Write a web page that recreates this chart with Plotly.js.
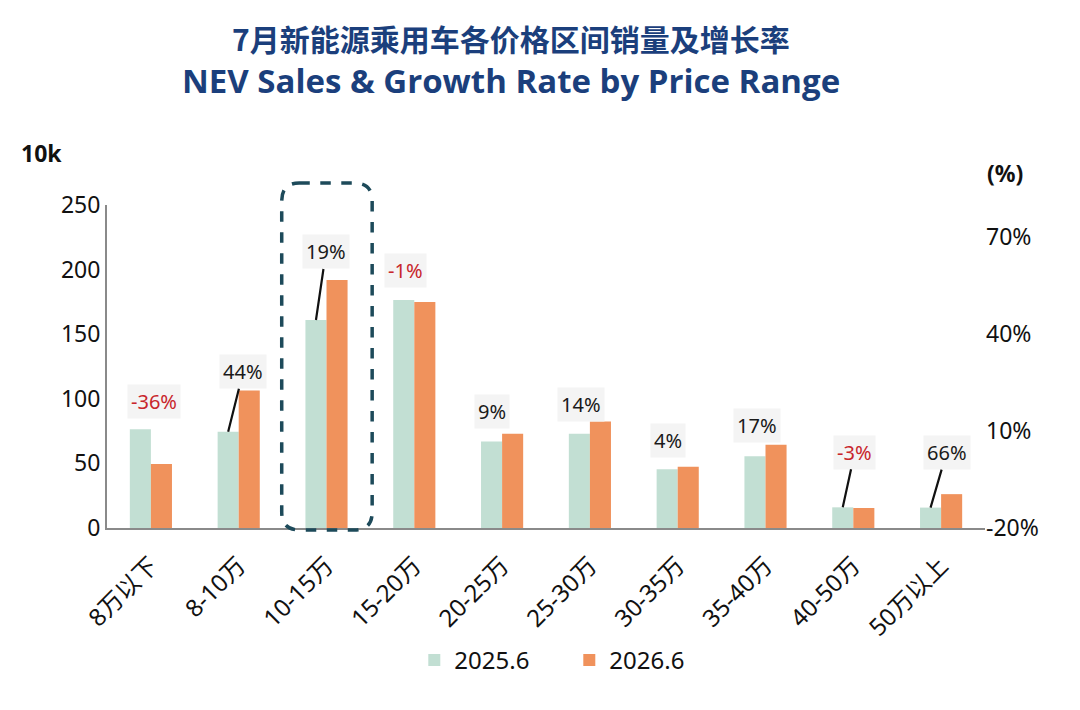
<!DOCTYPE html>
<html>
<head>
<meta charset="utf-8">
<script src="https://cdn.plot.ly/plotly-3.0.1.min.js"></script>
<style>
  html, body { margin: 0; padding: 0; background: #fff; }
  #chart { width: 1080px; height: 710px; }
</style>
</head>
<body>
<div id="chart"></div>
<script>
// price ranges (x categories)
const categories = ['8万以下', '8-10万', '10-15万', '15-20万', '20-25万', '25-30万', '30-35万', '35-40万', '40-50万', '50万以上'];
// sales in 10k units
const sales2025 = [76.5, 74.5, 161, 176.5, 67, 73, 45.5, 55.5, 16, 15.8];
const sales2026 = [49.5, 106.5, 192, 175, 73, 82.5, 47.5, 64.5, 15.5, 26.2];
// year-on-year growth labels
const growth = ['-36%', '44%', '19%', '-1%', '9%', '14%', '4%', '17%', '-3%', '66%'];
const seriesNames = ['2025.6', '2026.6'];
const rightTicks = [-20, 10, 40, 70];
const titleLines = ['7月新能源乘用车各价格区间销量及增长率', 'NEV Sales & Growth Rate by Price Range'];

// label placement (pixels), leader lines for the crowded ones
const hasLeader = [false, true, true, false, false, false, false, false, true, true];
const labelDx = [3, 5, 0, -9, -10, -9, -10, -9, 2, 6];
const labelDy = [-28, -60, -68, -29, -22, -17, -26, -19, -55, -55];

const font = '"Noto Sans", "Noto Sans CJK SC", sans-serif';
const teal = '#c2dfd3', orange = '#f0925c';
const red = '#c8262c', ink = '#1a1a1a', navy = '#1b3f7c';

const traces = [
    { type: 'bar', x: categories, y: sales2025, name: seriesNames[0], marker: { color: teal }, hoverinfo: 'x+y' },
    { type: 'bar', x: categories, y: sales2026, name: seriesNames[1], marker: { color: orange }, hoverinfo: 'x+y' }
];

const annotations = growth.map((g, i) => {
    const neg = g.startsWith('-');
    const base = {
        text: g, xref: 'x', yref: 'y',
        font: { family: font, size: 20, color: neg ? red : ink },
        bgcolor: '#f4f4f4', borderpad: 3
    };
    if (hasLeader[i]) {
        // arrow tip on the 2025 bar top
        return { ...base, x: i - 0.12, y: sales2025[i], showarrow: true, arrowhead: 0,
                 arrowwidth: 2.2, arrowcolor: '#111', ax: labelDx[i] + 10, ay: labelDy[i] };
    }
    return { ...base, x: i, y: Math.max(sales2025[i], sales2026[i]), showarrow: false,
             xshift: labelDx[i], yshift: -labelDy[i], yanchor: 'middle' };
});

annotations.push(
    { text: '<b>' + titleLines[0] + '</b>', xref: 'paper', yref: 'paper', x: 0.46, y: 1.516,
      xanchor: 'center', yanchor: 'middle', showarrow: false,
      font: { family: '"Noto Sans CJK SC", sans-serif', size: 30, color: navy } },
    { text: '<b>' + titleLines[1] + '</b>', xref: 'paper', yref: 'paper', x: 0.46, y: 1.385,
      xanchor: 'center', yanchor: 'middle', showarrow: false,
      font: { family: '"Open Sans", sans-serif', size: 33, color: navy } },
    { text: '<b>10k</b>', xref: 'paper', yref: 'paper', x: -0.1, y: 1.161, xanchor: 'left', yanchor: 'middle',
      showarrow: false, font: { family: font, size: 23, color: '#111' } },
    { text: '<b>(%)</b>', xref: 'paper', yref: 'paper', x: 1.023, y: 1.099, xanchor: 'center', yanchor: 'middle',
      showarrow: false, font: { family: font, size: 23, color: '#111' } }
);

// dashed rounded box around 10-15万 (x in data units, y in paper units)
const bx0 = 1.49, bx1 = 2.52, by0 = -0.006, by1 = 1.068, rx = 0.2, ry = 0.055;
const boxPath = `M ${bx0 + rx} ${by1} L ${bx1 - rx} ${by1} Q ${bx1} ${by1} ${bx1} ${by1 - ry} ` +
    `L ${bx1} ${by0 + ry} Q ${bx1} ${by0} ${bx1 - rx} ${by0} L ${bx0 + rx} ${by0} ` +
    `Q ${bx0} ${by0} ${bx0} ${by0 + ry} L ${bx0} ${by1 - ry} Q ${bx0} ${by1} ${bx0 + rx} ${by1} Z`;

const layout = {
    width: 1080, height: 710,
    margin: { t: 205, b: 182, l: 107, r: 95 },
    paper_bgcolor: '#fff', plot_bgcolor: '#fff',
    font: { family: font, color: '#111' },
    barmode: 'group', bargap: 0.52, bargroupgap: 0,
    xaxis: {
        type: 'category', range: [-0.5, 9.5], tickangle: -45,
        showline: true, linecolor: '#8a8a8a', linewidth: 2,
        ticks: '', ticklabelstandoff: 12, tickfont: { family: font, size: 24, color: '#111' },
        showgrid: false, zeroline: false
    },
    yaxis: {
        range: [0, 250], tickvals: [0, 50, 100, 150, 200, 250],
        showline: true, linecolor: '#8a8a8a', linewidth: 2,
        showgrid: false, zeroline: false, ticks: '',
        tickfont: { family: font, size: 23, color: '#111' }
    },
    yaxis2: {
        overlaying: 'y', side: 'right', range: [-20, 80],
        tickvals: rightTicks, ticktext: rightTicks.map(v => v + '%'),
        showline: false, showgrid: false, zeroline: false,
        ticks: '', tickfont: { family: font, size: 23, color: '#111' }
    },
    legend: {
        orientation: 'h', x: 0.35, xanchor: 'left', y: -0.41, yanchor: 'middle',
        font: { family: font, size: 24, color: '#111' }, itemwidth: 30,
        entrywidth: 110, entrywidthmode: 'pixels', traceorder: 'normal'
    },
    shapes: [{
        type: 'path', xref: 'x', yref: 'paper', path: boxPath,
        line: { color: '#1d4a5a', width: 3.5, dash: 'dash' }, fillcolor: 'rgba(0,0,0,0)'
    }],
    annotations: annotations,
    showlegend: true
};

// invisible trace so the right axis gets drawn
traces.push({ type: 'scatter', x: [categories[0]], y: [0], yaxis: 'y2', mode: 'markers',
              marker: { opacity: 0 }, showlegend: false, hoverinfo: 'skip' });

Plotly.newPlot('chart', traces, layout, { displayModeBar: false });
</script>
</body>
</html>
